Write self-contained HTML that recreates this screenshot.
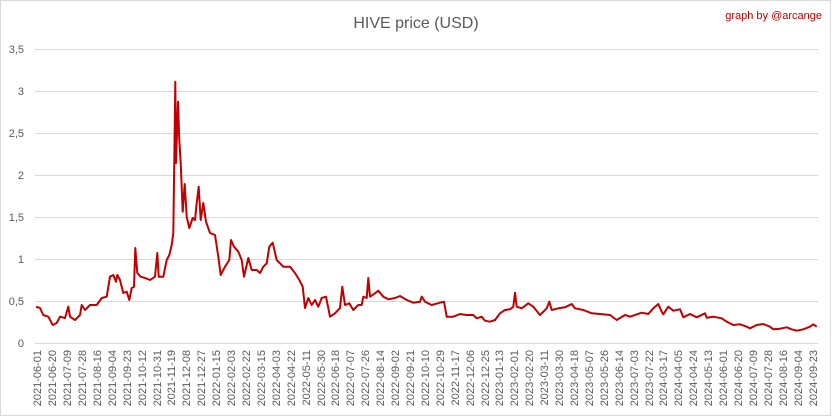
<!DOCTYPE html>
<html><head><meta charset="utf-8"><style>
html,body{margin:0;padding:0;background:#fff}
svg{display:block}
text{font-family:"Liberation Sans",sans-serif}
</style></head><body>
<svg width="832" height="417" viewBox="0 0 832 417" xmlns="http://www.w3.org/2000/svg">
<rect x="0.5" y="0.5" width="830" height="415" fill="#fff" stroke="#d9d9d9"/>
<text x="416" y="28" text-anchor="middle" font-size="16" fill="#595959">HIVE price (USD)</text>
<text x="822" y="19" text-anchor="end" font-size="11" fill="#c00000">graph by @arcange</text>
<g stroke="#d9d9d9" stroke-width="1">
<line x1="35" x2="818" y1="49.5" y2="49.5"/><line x1="35" x2="818" y1="91.5" y2="91.5"/>
<line x1="35" x2="818" y1="133.5" y2="133.5"/><line x1="35" x2="818" y1="175.5" y2="175.5"/>
<line x1="35" x2="818" y1="217.5" y2="217.5"/><line x1="35" x2="818" y1="259.5" y2="259.5"/>
<line x1="35" x2="818" y1="301.5" y2="301.5"/><line x1="35" x2="818" y1="343.5" y2="343.5"/>
</g>
<g font-size="11" fill="#595959" text-anchor="end">
<text x="24" y="53">3,5</text><text x="24" y="95">3</text><text x="24" y="137">2,5</text>
<text x="24" y="179">2</text><text x="24" y="221">1,5</text><text x="24" y="263">1</text>
<text x="24" y="305">0,5</text><text x="24" y="347">0</text>
</g>
<polyline fill="none" stroke="#c00000" stroke-width="2" stroke-linejoin="round" points="36,306.7 40,308 43.3,315 48.3,316.7 52.7,325 56.7,323 60,316.7 65,318 68.3,306.7 70,316.7 75,320 80,315 81.7,305 85,310 90,305 96.7,305 101.7,298 106.7,296.7 110,276.7 113.3,275 116,281.7 117.3,275 120,280 123.3,293 126.7,291.7 129.3,300 131.7,288 134,286.7 135.3,248 137.3,273 140.7,276.7 145,278 150,280 155,276.7 157.3,253 158.7,276.7 163.3,276.7 166.7,260 169.3,255 171.7,245 173.3,233 174.3,160 175.3,81.7 176,163 178,101.7 179.3,140 180.7,163 182.7,211.7 184.7,184 186.7,216.7 189.3,228 192.7,218 195,220 196.7,203 198.7,186.7 200.7,220 203.3,203 206,221.7 210,233 215,235 218.3,256.7 220.7,275 225,266.7 229.3,260 231,240 234,246.7 238.3,251.7 241.7,260 244,276.7 248.3,258 251.7,270 256.7,270 260,273 263.3,266.7 266.7,263.3 269.3,246.7 272.7,242.7 276.7,260 283.3,266.7 290,266.7 295,273 299.3,280 302.7,286.7 305,308 308.3,298 311.7,305 315,300 318.3,306.7 321.7,298 326,296.7 330,316.7 335,313.3 340,308 342.3,286.7 345,305 349.3,303.3 353.3,310 358.3,305 361.7,305 363.3,296.7 366.7,298 368.3,278 370,296.7 375,293.3 378.3,290.7 383.3,296.7 388.3,299.3 395,298 400,296 406.7,300 413.3,302.7 420,301.7 421.7,296.7 425,301.7 431.7,305 440,302.7 444,301.7 446.7,316.7 453.3,316.7 460,314 466.7,315 473.3,315 476.7,318.3 481.7,316.7 485,320.7 490,321.7 495,320 500,313.3 505,310 510,309.3 513.3,306.7 515,292.7 516.7,306.7 521.7,308.3 528.3,303.3 533.3,306.7 540,315 546.7,308.3 549.3,301.7 551.7,310 558.3,308.3 565,307.3 571.7,304 575,308.3 583.3,310 591.7,313.3 600,314 610,315 616.7,320 625,315 630,316.7 641.7,312.7 648.3,314 653.3,308.3 658.3,304 661.7,311.7 663.3,314.3 668.3,306.7 673.3,310.7 680,309.3 683.3,317.3 690,314 696.7,317.3 705,313.3 706.7,317.7 713.3,316.7 721.7,318.3 726.7,321.7 733.3,325 740,324.3 746.7,326.7 750,328.3 756.7,325 763.3,324 770,326.7 773.3,329.3 780,328.7 786.7,327.3 791.7,329.3 796.7,330.7 803.3,329.3 810,326.7 813.3,324.3 816.7,326.7"/>
<g font-size="11" fill="#595959" text-anchor="end" id="xl"></g>
<g font-size="11" fill="#595959" text-anchor="end">
<text transform="translate(41,350) rotate(-90)">2021-06-01</text>
<text transform="translate(56,350) rotate(-90)">2021-06-20</text>
<text transform="translate(71,350) rotate(-90)">2021-07-09</text>
<text transform="translate(86,350) rotate(-90)">2021-07-28</text>
<text transform="translate(101,350) rotate(-90)">2021-08-16</text>
<text transform="translate(116,350) rotate(-90)">2021-09-04</text>
<text transform="translate(131,350) rotate(-90)">2021-09-23</text>
<text transform="translate(146,350) rotate(-90)">2021-10-12</text>
<text transform="translate(161,350) rotate(-90)">2021-10-31</text>
<text transform="translate(175,350) rotate(-90)">2021-11-19</text>
<text transform="translate(190,350) rotate(-90)">2021-12-08</text>
<text transform="translate(205,350) rotate(-90)">2021-12-27</text>
<text transform="translate(220,350) rotate(-90)">2022-01-15</text>
<text transform="translate(235,350) rotate(-90)">2022-02-03</text>
<text transform="translate(250,350) rotate(-90)">2022-02-22</text>
<text transform="translate(265,350) rotate(-90)">2022-03-15</text>
<text transform="translate(280,350) rotate(-90)">2022-04-03</text>
<text transform="translate(295,350) rotate(-90)">2022-04-22</text>
<text transform="translate(310,350) rotate(-90)">2022-05-11</text>
<text transform="translate(325,350) rotate(-90)">2022-05-30</text>
<text transform="translate(339,350) rotate(-90)">2022-06-18</text>
<text transform="translate(354,350) rotate(-90)">2022-07-07</text>
<text transform="translate(369,350) rotate(-90)">2022-07-26</text>
<text transform="translate(384,350) rotate(-90)">2022-08-14</text>
<text transform="translate(399,350) rotate(-90)">2022-09-02</text>
<text transform="translate(414,350) rotate(-90)">2022-09-21</text>
<text transform="translate(429,350) rotate(-90)">2022-10-10</text>
<text transform="translate(444,350) rotate(-90)">2022-10-29</text>
<text transform="translate(459,350) rotate(-90)">2022-11-17</text>
<text transform="translate(474,350) rotate(-90)">2022-12-06</text>
<text transform="translate(489,350) rotate(-90)">2022-12-25</text>
<text transform="translate(503,350) rotate(-90)">2023-01-13</text>
<text transform="translate(518,350) rotate(-90)">2023-02-01</text>
<text transform="translate(533,350) rotate(-90)">2023-02-20</text>
<text transform="translate(548,350) rotate(-90)">2023-03-11</text>
<text transform="translate(563,350) rotate(-90)">2023-03-30</text>
<text transform="translate(578,350) rotate(-90)">2023-04-18</text>
<text transform="translate(593,350) rotate(-90)">2023-05-07</text>
<text transform="translate(608,350) rotate(-90)">2023-05-26</text>
<text transform="translate(623,350) rotate(-90)">2023-06-14</text>
<text transform="translate(638,350) rotate(-90)">2023-07-03</text>
<text transform="translate(653,350) rotate(-90)">2023-07-22</text>
<text transform="translate(667,350) rotate(-90)">2024-03-17</text>
<text transform="translate(682,350) rotate(-90)">2024-04-05</text>
<text transform="translate(697,350) rotate(-90)">2024-04-24</text>
<text transform="translate(712,350) rotate(-90)">2024-05-13</text>
<text transform="translate(727,350) rotate(-90)">2024-06-01</text>
<text transform="translate(742,350) rotate(-90)">2024-06-20</text>
<text transform="translate(757,350) rotate(-90)">2024-07-09</text>
<text transform="translate(772,350) rotate(-90)">2024-07-28</text>
<text transform="translate(787,350) rotate(-90)">2024-08-16</text>
<text transform="translate(802,350) rotate(-90)">2024-09-04</text>
<text transform="translate(817,350) rotate(-90)">2024-09-23</text>
</g>
</svg>
</body></html>
